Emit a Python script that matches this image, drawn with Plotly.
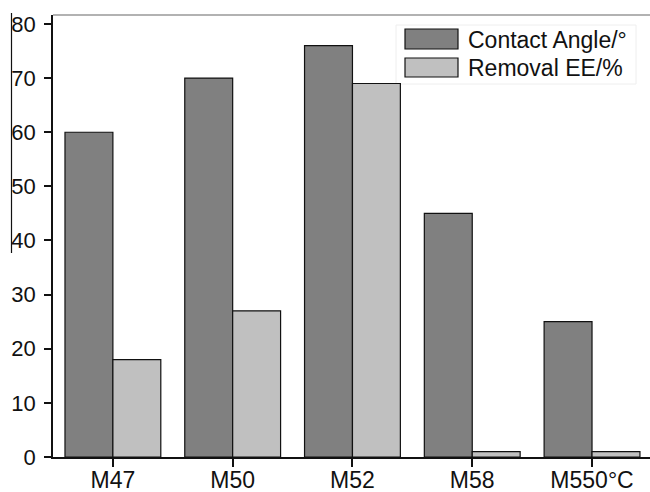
import plotly.graph_objects as go

categories = ["M47", "M50", "M52", "M58", "M550°C"]
contact_angle = [60, 70, 76, 45, 25]
removal_ee = [18, 27, 69, 1, 1]
series_names = ["Contact Angle/°", "Removal EE/%"]
colors = ["#808080", "#c0c0c0"]

W, H = 650, 492
L, R, T, B = 53, 0, 15, 35
pw = W - L - R
ph = H - T - B

fig = go.Figure()
for name, vals, col in zip(series_names, [contact_angle, removal_ee], colors):
    fig.add_trace(go.Bar(
        x=list(range(len(categories))), y=vals, name=name,
        marker=dict(color=col, line=dict(color="#111111", width=1.2)),
        showlegend=False,
    ))

def px(x):
    return (x - L) / pw

def py(y):
    return 1 - (y - T) / ph

shapes = []
annotations = []
# custom legend
leg_box = [(29, 49), (58, 77)]
leg_text_y = [40, 68]
for i, (name, col) in enumerate(zip(series_names, colors)):
    y0, y1 = leg_box[i]
    shapes.append(dict(type="rect", xref="paper", yref="paper",
                       x0=px(405), x1=px(458), y0=py(y1), y1=py(y0),
                       fillcolor=col, line=dict(color="#111111", width=1.2)))
    annotations.append(dict(xref="paper", yref="paper", x=px(466), y=py(leg_text_y[i]),
                            text=name, showarrow=False, xanchor="left", yanchor="middle",
                            font=dict(size=23, color="#111111")))
# legend faint frame
shapes.append(dict(type="rect", xref="paper", yref="paper",
                   x0=px(396), x1=px(636), y0=py(84), y1=py(25),
                   line=dict(color="#eeeeee", width=1), fillcolor="rgba(0,0,0,0)", layer="below"))
# top border
shapes.append(dict(type="line", xref="paper", yref="paper", x0=0, x1=1, y0=1, y1=1,
                   line=dict(color="#999999", width=1.5)))
# stray vertical line at far left
shapes.append(dict(type="line", xref="paper", yref="paper", x0=px(11.5), x1=px(11.5),
                   y0=py(13), y1=py(253), line=dict(color="#111111", width=1.2)))

fig.update_layout(
    width=W, height=H,
    margin=dict(l=L, r=R, t=T, b=B, pad=0, autoexpand=False),
    paper_bgcolor="white", plot_bgcolor="white",
    barmode="group", bargap=0.2, bargroupgap=0,
    font=dict(family="Liberation Sans, Arial, sans-serif", size=20, color="#111111"),
    xaxis=dict(tickmode="array", tickvals=list(range(len(categories))), ticktext=categories,
               range=[-0.5, 4.484], showline=True, linecolor="#111111", linewidth=1.5,
               ticks="outside", ticklen=8, tickcolor="#111111", tickwidth=1.5,
               showgrid=False, zeroline=False, tickfont=dict(size=23), automargin=False,
               ticklabelstandoff=-6),
    yaxis=dict(range=[0, 81.66], tickmode="linear", tick0=0, dtick=10,
               showline=True, linecolor="#111111", linewidth=1.5,
               ticks="outside", ticklen=7, tickcolor="#111111", tickwidth=1.5,
               showgrid=False, zeroline=False, tickfont=dict(size=22), automargin=False,
               ticklabelstandoff=4),
    shapes=shapes, annotations=annotations,
)

fig.write_html(
    "out.html",
    config={"responsive": False, "displayModeBar": False},
    post_script="document.body.style.margin='0';document.body.style.overflow='hidden';",
)
